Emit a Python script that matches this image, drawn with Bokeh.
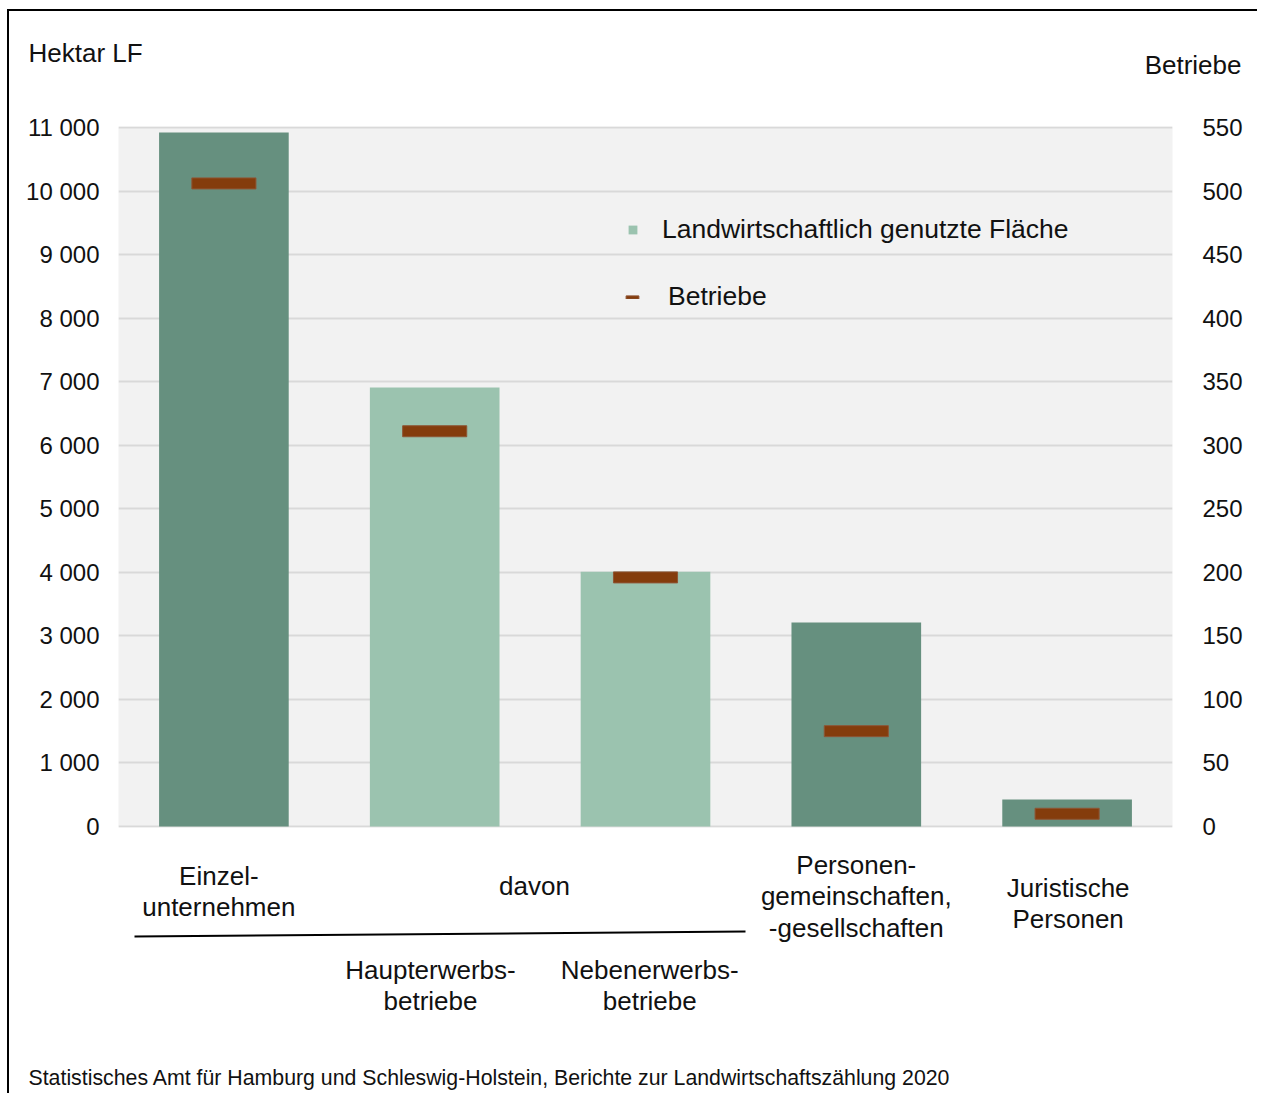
from bokeh.plotting import figure
from bokeh.models import (Range1d, LinearAxis, FixedTicker, Legend, LegendItem,
                          ColumnDataSource, Column)
from bokeh.core.properties import value
from bokeh.embed import file_html
from bokeh.resources import INLINE

# ---------------- data ----------------
categories = ["Einzel-\nunternehmen", "Haupterwerbs-\nbetriebe", "Nebenerwerbs-\nbetriebe",
              "Personen-\ngemeinschaften,\n-gesellschaften", "Juristische\nPersonen"]
flaeche_ha = [10920, 6910, 4010, 3210, 425]      # Hektar LF (left axis)
betriebe = [506, 311, 196, 75, 10]                # Betriebe (right axis)
is_subgroup = [False, True, True, False, False]   # "davon" sub-categories
left_ticks = [0, 1000, 2000, 3000, 4000, 5000, 6000, 7000, 8000, 9000, 10000, 11000]
left_tick_labels = ["0", "1 000", "2 000", "3 000", "4 000", "5 000", "6 000", "7 000",
                    "8 000", "9 000", "10 000", "11 000"]
right_ticks = [0, 50, 100, 150, 200, 250, 300, 350, 400, 450, 500, 550]
right_tick_labels = [str(t) for t in right_ticks]
legend_labels = ["Landwirtschaftlich genutzte Fläche", "Betriebe"]
axis_titles = ["Hektar LF", "Betriebe"]
group_label = "davon"
source_note = "Statistisches Amt für Hamburg und Schleswig-Holstein,  Berichte zur Landwirtschaftszählung  2020"

# ---------------- style / layout ----------------
FONT = "Liberation Sans"
DARK = "#66907F"
LIGHT = "#9BC3AF"
MARK = "#843C0C"
TXT = "#111111"

W = 1248
FRAME_W, FRAME_H = 1054, 701
ML, MR, MT, MB = 109, 85, 16, 16
PXU = FRAME_W / 5                  # pixels per category slot
Y0, Y1 = -16, 11016
B0, B1 = Y0 * 550 / 11000, Y1 * 550 / 11000

def dx(px):   # page x pixel -> category coordinate (text placement only)
    return (px - 118) / PXU

xpos = [i + 0.5 for i in range(len(categories))]
colors = [LIGHT if s else DARK for s in is_subgroup]
src = ColumnDataSource(dict(x=xpos, ha=flaeche_ha, b=betriebe, color=colors))

def blank(height, y_top, y_bottom):
    f = figure(width=W, height=height,
               x_range=Range1d(-ML / PXU, 5 + MR / PXU), y_range=Range1d(y_bottom, y_top),
               x_axis_location=None, y_axis_location=None, output_backend="svg",
               toolbar_location=None, min_border=0)
    f.outline_line_color = None
    f.grid.visible = False
    f.background_fill_color = "white"
    return f

# ---------- top strip: axis titles ----------
t = blank(99, 11, 110)
t.text(x=[dx(28), dx(1241)], y=[52, 64], text=axis_titles,
       text_align=["left", "right"], text_baseline="middle",
       text_font=value(FONT), text_font_size="26px", text_color=TXT)

# ---------- main chart ----------
p = figure(frame_width=FRAME_W, frame_height=FRAME_H,
           x_range=Range1d(0, 5), y_range=Range1d(Y0, Y1),
           x_axis_location=None, output_backend="svg", toolbar_location=None,
           min_border_left=ML, min_border_right=MR, min_border_top=MT, min_border_bottom=MB)
p.extra_y_ranges = {"b": Range1d(B0, B1)}
p.background_fill_color = "#F2F2F2"
p.border_fill_color = "white"
p.outline_line_color = None

ya = p.yaxis[0]
ya.ticker = FixedTicker(ticks=left_ticks)
ya.major_label_overrides = {t_: l for t_, l in zip(left_ticks, left_tick_labels)}
ra = LinearAxis(y_range_name="b", ticker=FixedTicker(ticks=right_ticks))
ra.major_label_overrides = {t_: l for t_, l in zip(right_ticks, right_tick_labels)}
p.add_layout(ra, "right")
for ax, standoff in ((ya, 19), (ra, 30)):
    ax.axis_line_color = None
    ax.major_tick_line_color = None
    ax.minor_tick_line_color = None
    ax.major_tick_out = 0
    ax.major_label_standoff = standoff
    ax.major_label_text_font = FONT
    ax.major_label_text_font_size = "24px"
    ax.major_label_text_color = TXT

p.xgrid.visible = False
p.ygrid.ticker = FixedTicker(ticks=left_ticks)
p.ygrid.grid_line_color = "#D9D9D9"
p.ygrid.grid_line_width = 2

bars = p.vbar(x="x", top="ha", width=0.615, fill_color="color", line_color=None, source=src)
marks = p.rect(x="x", y="b", width=0.304, height=11, height_units="screen", y_range_name="b",
               fill_color=MARK, line_color="#8E5535", line_width=1, source=src)

lg1 = Legend(items=[LegendItem(label=legend_labels[0], renderers=[bars], index=1)],
             location=(509, 582), glyph_width=11, glyph_height=11, label_standoff=24,
             label_height=28, padding=0, margin=0, spacing=0,
             border_line_color=None, background_fill_alpha=0,
             label_text_font=FONT, label_text_font_size="26.5px", label_text_color=TXT)
lg2 = Legend(items=[LegendItem(label=legend_labels[1], renderers=[marks], index=0)],
             location=(506, 515), glyph_width=16, glyph_height=4, label_standoff=28,
             label_height=28, padding=0, margin=0, spacing=0,
             border_line_color=None, background_fill_alpha=0,
             label_text_font=FONT, label_text_font_size="26.5px", label_text_color=TXT)
p.add_layout(lg1)
p.add_layout(lg2)

# ---------- bottom strip: category labels, grouping line, source ----------
q = blank(250, 843, 1093)
label_shift = [-0.024, -0.02, 0.02, 0.0, 0.005]   # small horizontal nudges of the labels
cat_x = [x + s for x, s in zip(xpos, label_shift)]
cat_y = [891, 985, 985, 896, 903]
q.text(x=cat_x, y=cat_y, text=categories, text_align="center", text_baseline="middle",
       text_font=value(FONT), text_font_size="26px", text_color=TXT, text_line_height=1.06)
q.text(x=[dx(534)], y=[885], text=[group_label], text_align="center", text_baseline="middle",
       text_font=value(FONT), text_font_size="26px", text_color=TXT)
q.segment(x0=[dx(134)], y0=[936], x1=[dx(745)], y1=[931], line_color="black", line_width=2)
q.text(x=[dx(28)], y=[1077], text=[source_note], text_align="left", text_baseline="middle",
       text_font=value(FONT), text_font_size="21.3px", text_color=TXT)

# wrap strips separately so their frames are not aligned with the chart frame
layout = Column(children=[Column(children=[t]), Column(children=[p]), Column(children=[q])],
                spacing=0,
                styles={"margin-left": "7px", "margin-top": "9px",
                        "border-top": "2px solid #000", "border-left": "2px solid #000"})

open("out.html", "w").write(file_html(layout, INLINE))
